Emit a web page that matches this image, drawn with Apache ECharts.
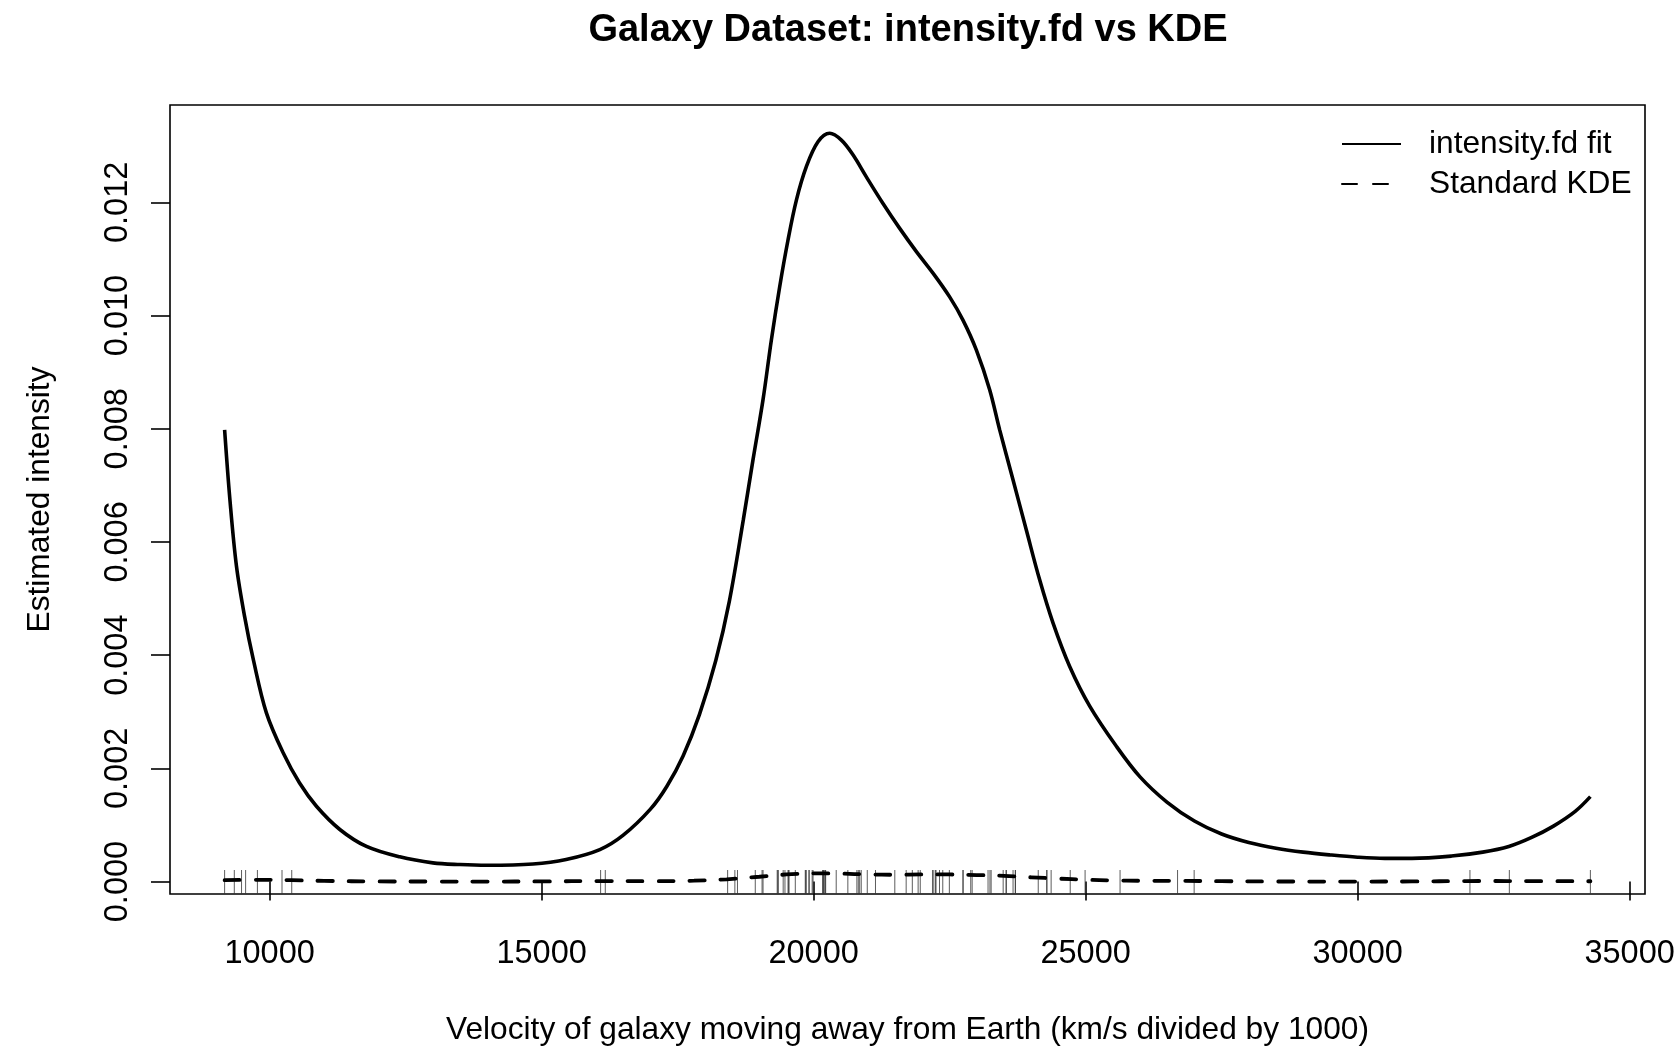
<!DOCTYPE html>
<html>
<head>
<meta charset="utf-8">
<script src="https://cdn.jsdelivr.net/npm/echarts@6/dist/echarts.min.js"></script>
<style>
html,body{margin:0;padding:0;background:#fff;}
#chart{width:1678px;height:1046px;}
</style>
</head>
<body>
<div id="chart"></div>
<script>
// ---- data ----
const galaxyVelocities = [9172,9350,9483,9558,9775,10227,10406,16084,16170,18419,18552,18600,18927,19052,19070,19330,19343,19349,19440,19473,19529,19541,19547,19663,19846,19856,19863,19914,19918,19973,19989,20166,20175,20179,20196,20215,20221,20415,20629,20795,20821,20846,20875,20986,21137,21492,21701,21814,21921,21960,22185,22209,22242,22249,22314,22374,22495,22746,22747,22888,22914,23206,23241,23263,23484,23538,23542,23666,23706,23711,24129,24285,24289,24366,24717,24990,25633,26690,26995,32065,32789,34279];

const fitX = [9172,9270,9390,9540,9700,9940,10250,10550,10860,11290,11780,12390,13000,13500,14000,14840,15450,16070,16500,17000,17300,17600,17900,18200,18450,18707,18885,19069,19223,19376,19528,19683,19866,20080,20295,20510,20723,20969,21275,21582,21889,22194,22500,22745,22992,23236,23420,23665,23910,24155,24400,24707,25075,25565,26000,26500,27000,27500,28000,28500,29000,29500,30000,30500,31000,31725,32300,32779,33200,33600,34000,34279];
const fitY = [0.00798,0.00674,0.00557,0.00468,0.00392,0.00298,0.00227,0.00174,0.00133,0.00092,0.00062,0.000436,0.00033,0.000300,0.000288,0.00031,0.00039,0.000565,0.00082,0.00128,0.00168,0.00222,0.00295,0.0039,0.00495,0.00639,0.00745,0.00851,0.00957,0.01051,0.01133,0.01204,0.01263,0.01307,0.01322,0.01310,0.01284,0.01245,0.01198,0.01154,0.01113,0.01075,0.01033,0.00992,0.00939,0.00869,0.00798,0.0071,0.00621,0.00533,0.00457,0.0038,0.0031,0.00239,0.00185,0.0014,0.00107,0.00084,0.00069,0.00059,0.00052,0.00047,0.00043,0.00041,0.00041,0.00045,0.00052,0.00062,0.00078,0.00098,0.00124,0.0015];

const kdeX = [9172,9800,10400,11000,12000,13000,14000,15000,16100,17000,17800,18400,19000,19500,20000,20500,21000,21500,22000,22500,23000,23500,24000,24500,25000,25500,26000,26800,27500,28500,30000,31000,32000,32500,33000,34279];
const kdeY = [0.000025,0.000031,0.000025,0.000012,0.000002,0.0000005,0,0.000002,0.000009,0.000006,0.000015,0.00004,0.000085,0.000125,0.000145,0.00014,0.000125,0.00012,0.000125,0.000125,0.000115,0.0001,0.000075,0.000052,0.000032,0.00002,0.000014,0.000012,0.000006,0.000001,0,0.000002,0.000009,0.00001,0.000008,0.000005];

const xTicks = [10000,15000,20000,25000,30000,35000];
const yTicks = [0,0.002,0.004,0.006,0.008,0.010,0.012];
const xRange = [8168, 35283];
const yRange = [-0.00022, 0.01372];

const titleText = 'Galaxy Dataset: intensity.fd vs KDE';
const xName = 'Velocity of galaxy moving away from Earth (km/s divided by 1000)';
const yName = 'Estimated intensity';
const seriesNames = ['intensity.fd fit', 'Standard KDE'];

// ---- chart ----
const FONT = '"Liberation Sans", Arial, Helvetica, sans-serif';
const chart = echarts.init(document.getElementById('chart'), null, {renderer: 'canvas'});
const fitData = fitX.map((x, i) => [x, fitY[i]]);
const kdeData = kdeX.map((x, i) => [x, kdeY[i]]);
const rugData = galaxyVelocities.map(v => [v]);

chart.setOption({
  backgroundColor: '#ffffff',
  animation: false,
  title: {
    text: titleText,
    left: 903, top: 7,
    textAlign: 'center',
    textStyle: {fontFamily: FONT, fontSize: 38, fontWeight: 'bold', color: '#000'}
  },
  legend: {
    orient: 'vertical',
    left: 1341, top: 128, padding: 0,
    itemWidth: 59, itemHeight: 14, itemGap: 8,
    itemStyle: {opacity: 0},
    textStyle: {fontFamily: FONT, fontSize: 31.7, color: '#000', padding: [0,0,0,23], lineHeight: 31},
    data: seriesNames
  },
  grid: {
    left: 170, right: 33, top: 105, bottom: 152,
    containLabel: false, outerBoundsMode: 'none',
    show: true, borderColor: '#000', borderWidth: 1.6, backgroundColor: 'transparent'
  },
  xAxis: {
    type: 'value', min: xRange[0], max: xRange[1],
    name: xName, nameLocation: 'middle', nameGap: 120,
    nameTextStyle: {fontFamily: FONT, fontSize: 31.7, color: '#000'},
    axisLine: {show: false},
    splitLine: {show: false},
    axisTick: {show: true, inside: false, length: 19, customValues: xTicks, lineStyle: {color: '#000', width: 1.6}},
    axisLabel: {customValues: xTicks, margin: 44, fontFamily: FONT, fontSize: 32.5, color: '#000',
      formatter: v => String(v)}
  },
  yAxis: {
    type: 'value', min: yRange[0], max: yRange[1],
    name: yName, nameLocation: 'middle', nameGap: 114,
    nameTextStyle: {fontFamily: FONT, fontSize: 31.7, color: '#000'},
    axisLine: {show: false},
    splitLine: {show: false},
    axisTick: {show: true, inside: false, length: 19, customValues: yTicks, lineStyle: {color: '#000', width: 1.6}},
    axisLabel: {customValues: yTicks, rotate: 90, margin: 35, fontFamily: FONT, fontSize: 32.5, color: '#000',
      formatter: v => v.toFixed(3)}
  },
  series: [
    {
      name: seriesNames[0], type: 'line', data: fitData,
      showSymbol: false, symbol: 'none', smooth: 0.35,
      lineStyle: {color: '#000', width: 3.6, type: 'solid'},
      itemStyle: {color: '#000'}, z: 3
    },
    {
      name: seriesNames[1], type: 'line', data: kdeData,
      showSymbol: false, symbol: 'none', smooth: 0.35,
      lineStyle: {color: '#000', width: 3.8, type: [15, 16], cap: 'round'},
      itemStyle: {color: '#000'}, z: 3
    },
    {
      name: 'rug', type: 'custom', data: rugData, silent: true, z: 2,
      renderItem: function (params, api) {
        const p = api.coord([api.value(0), yRange[0]]);
        return {
          type: 'line',
          shape: {x1: p[0], y1: p[1], x2: p[0], y2: p[1] - 24},
          style: {stroke: '#333', lineWidth: 0.8}
        };
      }
    }
  ]
});
</script>
</body>
</html>
